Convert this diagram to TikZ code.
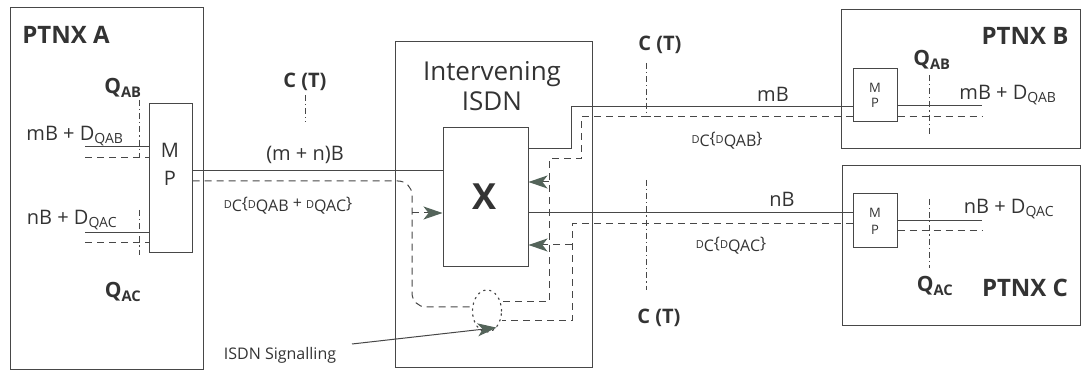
\documentclass[tikz,border=0pt]{standalone}
\usepackage{fontspec}
\setmainfont{Open Sans}
\usetikzlibrary{arrows.meta,shapes.geometric}
\colorlet{linec}{black!72}
\colorlet{textc}{black!80}
\definecolor{tipc}{RGB}{84,100,90}
\newcommand\fsz[1]{\fontsize{#1}{#1}\selectfont}
\newcommand\dsig[1]{{\fsz{11}D}\raisebox{-3pt}{#1}}
\begin{document}
\begin{tikzpicture}[x=1pt, y=-1pt,
  every node/.style={text=textc, inner sep=0pt},
  unit/.style={draw=linec, line width=1pt},
  trunk/.style={draw=linec, line width=1pt},
  dsig/.style={draw=linec, line width=1pt, dash pattern=on 7pt off 5pt},
  refpt/.style={draw=linec, line width=0.8pt, dash pattern=on 6pt off 3pt on 1.2pt off 3pt},
  tip/.style={-{Stealth[length=19pt, width=13pt, inset=5pt, fill=tipc, color=tipc]}},
  exch/.style={font=\bfseries\fsz{24}},
  qlab/.style={font=\bfseries\fsz{21}},
  ctlab/.style={font=\bfseries\fsz{20}},
  chan/.style={font=\fsz{20}},
  dlab/.style={font=\fsz{16}}]
  \useasboundingbox (0,0) rectangle (1082,371);
  % exchanges and multiplexers
  \node[unit, minimum width=193pt, minimum height=362pt] (ptnxA) at (106.5,188.5) {};
  \node[unit, minimum width=43pt, minimum height=149pt] (mpA) at (170.5,178.5) {};
  \node[unit, minimum width=197pt, minimum height=326pt] (isdn) at (493.5,205) {};
  \node[unit, minimum width=85pt, minimum height=139pt] (xbox) at (485.5,197.5) {};
  \node[unit, minimum width=239pt, minimum height=139pt] (ptnxB) at (961,79.5) {};
  \node[unit, minimum width=44pt, minimum height=53pt] (mpB) at (875,95.5) {};
  \node[unit, minimum width=238pt, minimum height=160pt] (ptnxC) at (961.5,246) {};
  \node[unit, minimum width=44pt, minimum height=54pt] (mpC) at (875,221) {};
  \node[draw=linec, ellipse, line width=1.2pt, line cap=round, dash pattern=on 1.5pt off 4.5pt,
        minimum width=29pt, minimum height=42pt] (sigpt) at (487,311) {};
  % free ends
  \coordinate (aM) at (85,147);
  \coordinate (aMd) at (85,158);
  \coordinate (aN) at (85,233);
  \coordinate (aNd) at (85,243);
  \coordinate (bM) at (982,106);
  \coordinate (bMd) at (982,117);
  \coordinate (cN) at (982,221);
  \coordinate (cNd) at (982,231);
  \coordinate (sigFrom) at (352,344);
  % B channels
  \draw[trunk] (aM) -- (mpA.west |- aM);
  \draw[trunk] (aN) -- (mpA.west |- aN);
  \draw[trunk] (mpA.east |- 0,171) -- (xbox.west |- 0,171);
  \draw[trunk] (xbox.east |- 0,149) -- (571,149) -- (571,107) -- (mpB.west |- 0,107);
  \draw[trunk] (xbox.east |- 0,213) -- (mpC.west |- 0,213);
  \draw[trunk] (mpB.east |- bM) -- (bM);
  \draw[trunk] (mpC.east |- cN) -- (cN);
  % D channels
  \draw[dsig] (aMd) -- (mpA.west |- aMd);
  \draw[dsig] (aNd) -- (mpA.west |- aNd);
  \draw[dsig] (mpB.east |- bMd) -- (bMd);
  \draw[dsig] (mpC.east |- cNd) -- (cNd);
  \draw[dsig, rounded corners=14pt] (mpA.east |- 0,181) -- (412,181) -- (412,307) -- (sigpt.west |- 0,307);
  \draw[dsig, tip] (412,213) -- (xbox.west |- 0,213);
  \draw[dsig] (mpB.west |- 0,117) -- (581,117) -- (581,159) -- (549,159) -- (549,302) -- (sigpt.east |- 0,302);
  \draw[dsig, tip] (549,182) -- (xbox.east |- 0,182);
  \draw[dsig] (mpC.west |- 0,224) -- (572,224) -- (572,321) -- (sigpt.east |- 0,321);
  \draw[dsig, tip] (572,245) -- (xbox.east |- 0,245);
  \draw[trunk, tip] (sigFrom) -- (sigpt.-60);
  % reference points
  \draw[refpt] (139,100) -- (139,158);
  \draw[refpt] (139,210) -- (139,255);
  \draw[refpt] (305,95) -- (305,122);
  \draw[refpt] (646,63) -- (646,117);
  \draw[trunk] (641,117) -- (651,117);
  \draw[refpt] (646,180) -- (646,290);
  \draw[refpt] (929,75) -- (929,136);
  \draw[refpt] (929,199) -- (929,268);
  % labels
  \node[exch] (labA) at (66,35) {PTNX A};
  \node[exch] (labB) at (1025,36) {PTNX B};
  \node[exch] (labC) at (1025,288) {PTNX C};
  \node[font=\fsz{26}, align=center] (labIsdn) at (492,86) {Intervening\\[4pt]ISDN};
  \node[font=\bfseries\fsz{36}] (labX) at (485,197) {X};
  \node[chan] at (170,150) {M};
  \node[chan] at (170,178) {P};
  \node[font=\fsz{13}] at (875,88) {M};
  \node[font=\fsz{13}] at (875,103) {P};
  \node[font=\fsz{13}] at (875,213) {M};
  \node[font=\fsz{13}] at (875,230) {P};
  \node[qlab] (qabA) at (123,88) {Q\textsubscript{AB}};
  \node[qlab] (qacA) at (123,292) {Q\textsubscript{AC}};
  \node[qlab] (qabB) at (932,60) {Q\textsubscript{AB}};
  \node[qlab] (qacC) at (935,286) {Q\textsubscript{AC}};
  \node[chan] (inAB) at (75,136) {mB + D\textsubscript{QAB}};
  \node[chan] (inAC) at (72,220) {nB + D\textsubscript{QAC}};
  \node[chan] (inB) at (1008,95) {mB + D\textsubscript{QAB}};
  \node[chan] (inC) at (1009,209) {nB + D\textsubscript{QAC}};
  \node[ctlab] (ctA) at (305,82) {C (T)};
  \node[ctlab] (ctB) at (660,45) {C (T)};
  \node[ctlab] (ctC) at (659,318) {C (T)};
  \node[chan] (trunkLab) at (305,155) {(m + n)B};
  \node[chan] (mbLab) at (773,94) {mB};
  \node[chan] (nbLab) at (782,199) {nB};
  \node[dlab] (dcA) at (288,206) {\dsig{C}\{\dsig{QAB} + \dsig{QAC}\}};
  \node[dlab] (dcB) at (727,141) {\dsig{C}\{\dsig{QAB}\}};
  \node[dlab] (dcC) at (731,246) {\dsig{C}\{\dsig{QAC}\}};
  \node[font=\fsz{16}] (sigLab) at (280,355) {ISDN Signalling};
\end{tikzpicture}
\end{document}
